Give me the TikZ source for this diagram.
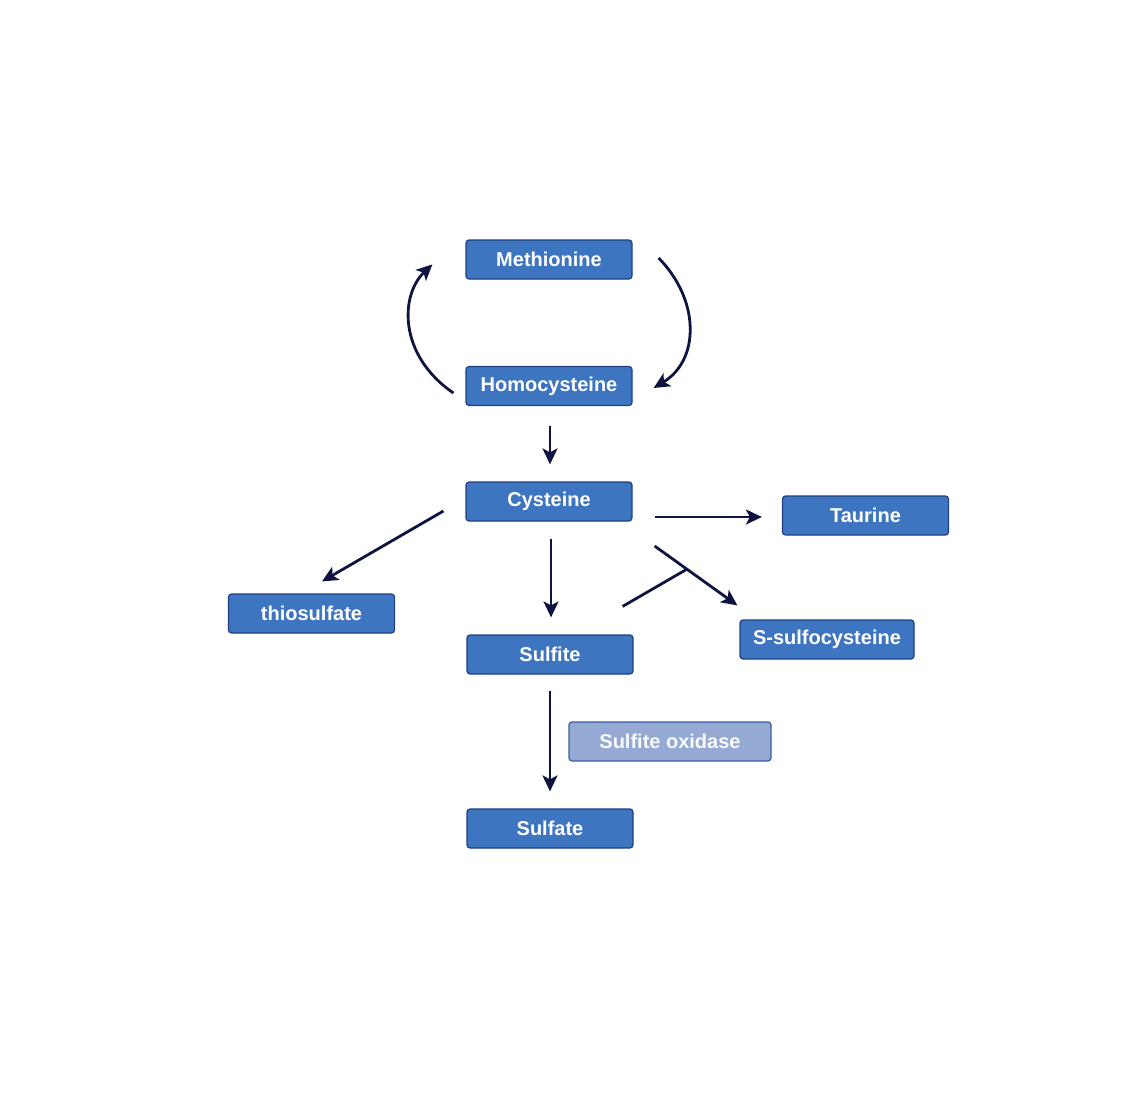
\documentclass[tikz,border=0pt]{standalone}
\usepackage{fontspec}
\setmainfont{Liberation Sans}
\usetikzlibrary{arrows.meta}
\definecolor{boxblue}{HTML}{3E75C0}
\definecolor{boxedge}{HTML}{1F3F80}
\definecolor{enzblue}{HTML}{94AAD4}
\definecolor{enzedge}{HTML}{3A5C9E}
\definecolor{arrnavy}{HTML}{0F1340}
\tikzset{
  metabox/.style={draw=boxedge, line width=1.2pt, fill=boxblue, rounded corners=3pt,
    text=white, font=\fontsize{20}{24}\selectfont\bfseries,
    minimum width=166pt, minimum height=39pt, inner sep=0pt},
  enzbox/.style={metabox, draw=enzedge, fill=enzblue, text=white!94!enzblue},
  arr/.style={draw=arrnavy, line width=2.8pt, -{Stealth[length=16pt,width=15pt,inset=4pt]}},
  plain/.style={draw=arrnavy, line width=2.8pt}
}
\begin{document}
\begin{tikzpicture}[x=1pt,y=-1pt]
  \useasboundingbox (0,0) rectangle (1140,1097);

  % metabolites
  \node[metabox] (met) at (549,259.5) {Methionine};
  \node[metabox] (hcy) at (549,386) {Homocysteine};
  \node[metabox] (cys) at (549,501.5) {Cysteine};
  \node[metabox] (tau) at (865.5,515.5) {Taurine};
  \node[metabox] (thio) at (311.5,613.5) {thiosulfate};
  \node[metabox] (sul) at (550,654.5) {Sulfite};
  \node[metabox, minimum width=174pt] (ssc) at (827,639.5) {S-sulfocysteine};
  \node[enzbox, minimum width=202pt] (sox) at (670,741.5) {Sulfite oxidase};
  \node[metabox] (sulf) at (550,828.5) {Sulfate};

  % methionine cycle
  \draw[arr] ([shift={(26,-1.5)}]met.east) .. controls (700,300) and (700,360) .. ([shift={(21,2)}]hcy.east);
  \draw[arr] ([shift={(-12,7)}]hcy.west) .. controls (398,355) and (400,295) .. ([shift={(-33,25)}]met.north west);

  % cysteine branches
  \draw[arr] ([shift={(1,20)}]hcy.south) -- ([shift={(1,-17)}]cys.north);
  \draw[arr] ([shift={(-22,9.5)}]cys.west) -- ([shift={(10.5,-12)}]thio.north);
  \draw[arr] ([shift={(22,15.5)}]cys.east) -- ([shift={(-20,1.5)}]tau.west);
  \draw[arr] ([shift={(2,17)}]cys.south) -- ([shift={(1,-17)}]sul.north);
  \draw[arr] ([shift={(22,44.5)}]cys.east) -- coordinate[pos=0.39] (join) ([shift={(-2,-14)}]ssc.north west);
  \draw[plain] ([shift={(-11,-28)}]sul.north east) -- (join);

  % oxidation
  \draw[arr] ([yshift=-16pt]sul.south) -- ([yshift=17pt]sulf.north);
\end{tikzpicture}
\end{document}
